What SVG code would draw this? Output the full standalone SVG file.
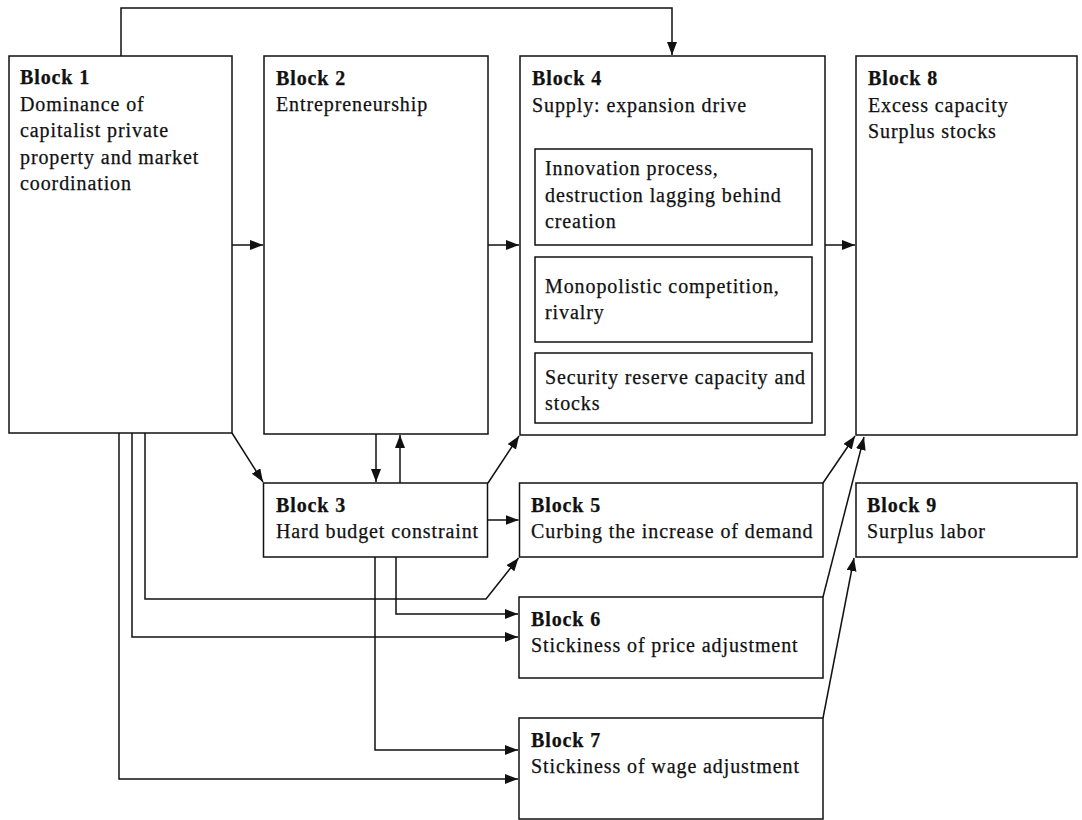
<svg xmlns="http://www.w3.org/2000/svg" width="1082" height="820" viewBox="0 0 1082 820">
<style>
.box{fill:#fff;stroke:#111;stroke-width:1.5}
.t{font-family:"Liberation Serif","Times New Roman",serif;font-size:20px;letter-spacing:0.9px;fill:#111;stroke:#111;stroke-width:0.25}
.b{font-weight:bold}
.c{fill:none;stroke:#111;stroke-width:1.5}
</style>
<defs>
<marker id="ah" markerUnits="userSpaceOnUse" markerWidth="14" markerHeight="11" refX="13" refY="5" orient="auto">
<path d="M0,0 L13,5 L0,10 z" fill="#111"/>
</marker>
</defs>
<rect width="1082" height="820" fill="#fff"/>
<g id="connectors">
<path class="c" d="M121,56 V8 H672 V55" marker-end="url(#ah)"/>
<path class="c" d="M232,245 H263" marker-end="url(#ah)"/>
<path class="c" d="M488,245 H519" marker-end="url(#ah)"/>
<path class="c" d="M825,245 H855" marker-end="url(#ah)"/>
<path class="c" d="M232,433 L263,482" marker-end="url(#ah)"/>
<path class="c" d="M376,434 V482" marker-end="url(#ah)"/>
<path class="c" d="M400,483 V435" marker-end="url(#ah)"/>
<path class="c" d="M488,483 L519,436" marker-end="url(#ah)"/>
<path class="c" d="M488,520 H518.5" marker-end="url(#ah)"/>
<path class="c" d="M145,433 V599 H486 L518.5,558" marker-end="url(#ah)"/>
<path class="c" d="M132,433 V637 H518" marker-end="url(#ah)"/>
<path class="c" d="M119,433 V779 H518" marker-end="url(#ah)"/>
<path class="c" d="M396,557 V614 H518" marker-end="url(#ah)"/>
<path class="c" d="M375,557 V750 H518" marker-end="url(#ah)"/>
<path class="c" d="M823,483 L855,436" marker-end="url(#ah)"/>
<path class="c" d="M823,597 L864,437" marker-end="url(#ah)"/>
<path class="c" d="M823,718 L854,558" marker-end="url(#ah)"/>
</g>
<g id="block1">
<rect class="box" x="9" y="56" width="223" height="377"/>
<text class="t b" x="20" y="84">Block 1</text>
<text class="t" x="20" y="110.5">Dominance of</text>
<text class="t" x="20" y="137">capitalist private</text>
<text class="t" x="20" y="163.5">property and market</text>
<text class="t" x="20" y="190">coordination</text>
</g>
<g id="block2">
<rect class="box" x="264" y="56" width="224" height="378"/>
<text class="t b" x="276" y="84.5">Block 2</text>
<text class="t" x="276" y="111">Entrepreneurship</text>
</g>
<g id="block4">
<rect class="box" x="520" y="56" width="305" height="379"/>
<text class="t b" x="532" y="85">Block 4</text>
<text class="t" x="532" y="111.5">Supply: expansion drive</text>
</g>
<g id="block4a">
<rect class="box" x="535" y="149" width="277" height="96"/>
<text class="t" x="545" y="175">Innovation process,</text>
<text class="t" x="545" y="201.5">destruction lagging behind</text>
<text class="t" x="545" y="228">creation</text>
</g>
<g id="block4b">
<rect class="box" x="535" y="257" width="277" height="85"/>
<text class="t" x="545" y="293">Monopolistic competition,</text>
<text class="t" x="545" y="319">rivalry</text>
</g>
<g id="block4c">
<rect class="box" x="535" y="353" width="277" height="70"/>
<text class="t" x="545" y="384">Security reserve capacity and</text>
<text class="t" x="545" y="410">stocks</text>
</g>
<g id="block8">
<rect class="box" x="856" y="56" width="221" height="379"/>
<text class="t b" x="868" y="85">Block 8</text>
<text class="t" x="868" y="111.5">Excess capacity</text>
<text class="t" x="868" y="138">Surplus stocks</text>
</g>
<g id="block3">
<rect class="box" x="263.5" y="483" width="224" height="74"/>
<text class="t b" x="276" y="511.5">Block 3</text>
<text class="t" x="276" y="538">Hard budget constraint</text>
</g>
<g id="block5">
<rect class="box" x="519.5" y="483" width="303.5" height="74"/>
<text class="t b" x="531" y="511.5">Block 5</text>
<text class="t" x="531" y="538">Curbing the increase of demand</text>
</g>
<g id="block9">
<rect class="box" x="856" y="483" width="221" height="74"/>
<text class="t b" x="867" y="511.5">Block 9</text>
<text class="t" x="867" y="538">Surplus labor</text>
</g>
<g id="block6">
<rect class="box" x="519" y="597" width="304" height="81"/>
<text class="t b" x="531" y="625.5">Block 6</text>
<text class="t" x="531" y="652">Stickiness of price adjustment</text>
</g>
<g id="block7">
<rect class="box" x="519" y="718" width="304" height="101"/>
<text class="t b" x="531" y="746.5">Block 7</text>
<text class="t" x="531" y="773">Stickiness of wage adjustment</text>
</g>
</svg>
